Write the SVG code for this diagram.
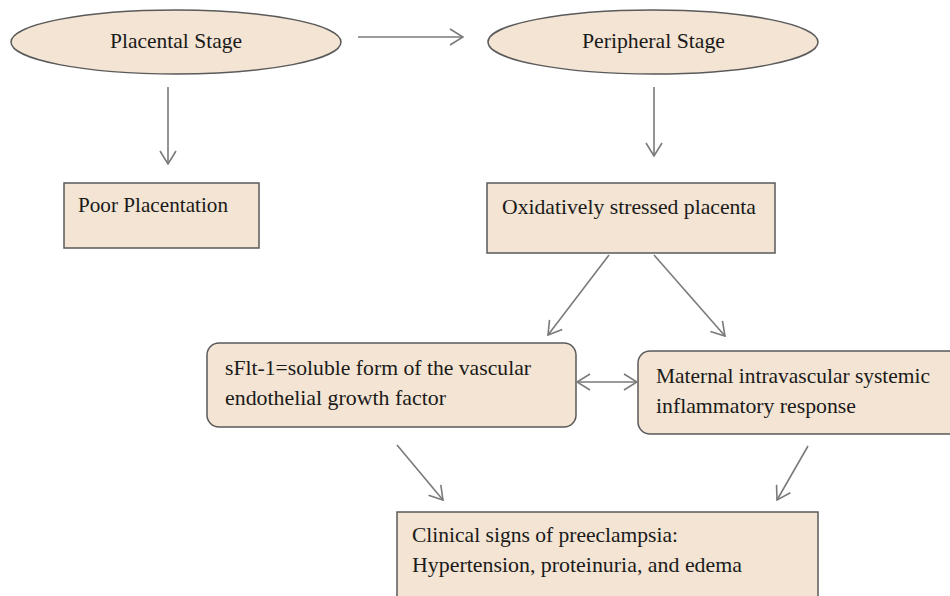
<svg xmlns="http://www.w3.org/2000/svg" width="950" height="596" viewBox="0 0 950 596">
<defs>
<style>
.node{fill:#F3E4D3;stroke:#5a5a5a;stroke-width:1.5}
.t{font-family:"Liberation Serif","Times New Roman",serif;font-size:21px;fill:#1a1a1a}
.con line{stroke:#7a7a7a;stroke-width:1.6;fill:none}
</style>
<marker id="ah" viewBox="0 0 16 18" refX="15" refY="9" markerWidth="16" markerHeight="18" markerUnits="userSpaceOnUse" orient="auto-start-reverse">
<path d="M2,1 L15,9 L2,17" fill="none" stroke="#7a7a7a" stroke-width="1.6"/>
</marker>
</defs>
<rect width="950" height="596" fill="#ffffff"/>
<g id="placental-stage">
<ellipse class="node" cx="176" cy="42" rx="165" ry="32"/>
<text class="t" x="110" y="48" textLength="132" lengthAdjust="spacingAndGlyphs">Placental Stage</text>
</g>
<g id="peripheral-stage">
<ellipse class="node" cx="653" cy="42" rx="165" ry="32"/>
<text class="t" x="582" y="48" textLength="143" lengthAdjust="spacingAndGlyphs">Peripheral Stage</text>
</g>
<g id="poor-placentation">
<rect class="node" x="64" y="183" width="195" height="65"/>
<text class="t" x="78" y="212" textLength="150" lengthAdjust="spacingAndGlyphs">Poor Placentation</text>
</g>
<g id="oxidatively-stressed">
<rect class="node" x="487" y="183" width="288" height="70"/>
<text class="t" x="502" y="214" textLength="254" lengthAdjust="spacingAndGlyphs">Oxidatively stressed placenta</text>
</g>
<g id="sflt1">
<rect class="node" x="207" y="343" width="369" height="84" rx="12" ry="12"/>
<text class="t" x="225" y="375" textLength="306" lengthAdjust="spacingAndGlyphs">sFlt-1=soluble form of the vascular</text>
<text class="t" x="225" y="405" textLength="221" lengthAdjust="spacingAndGlyphs">endothelial growth factor</text>
</g>
<g id="maternal-response">
<rect class="node" x="638" y="351" width="330" height="83" rx="12" ry="12"/>
<text class="t" x="656" y="383" textLength="274" lengthAdjust="spacingAndGlyphs">Maternal intravascular systemic</text>
<text class="t" x="656" y="413" textLength="200" lengthAdjust="spacingAndGlyphs">inflammatory response</text>
</g>
<g id="clinical-signs">
<rect class="node" x="397" y="512" width="421" height="100"/>
<text class="t" x="412" y="542" textLength="266" lengthAdjust="spacingAndGlyphs">Clinical signs of preeclampsia:</text>
<text class="t" x="412" y="572" textLength="330" lengthAdjust="spacingAndGlyphs">Hypertension, proteinuria, and edema</text>
</g>
<g id="connectors" class="con">
<line x1="358" y1="37" x2="463" y2="37" marker-end="url(#ah)"/>
<line x1="168" y1="87" x2="168" y2="164" marker-end="url(#ah)"/>
<line x1="654" y1="87" x2="654" y2="156" marker-end="url(#ah)"/>
<line x1="609" y1="255" x2="548" y2="335" marker-end="url(#ah)"/>
<line x1="654" y1="255" x2="725" y2="336" marker-end="url(#ah)"/>
<line x1="577" y1="382" x2="637" y2="382" marker-start="url(#ah)" marker-end="url(#ah)"/>
<line x1="397" y1="445" x2="443" y2="500" marker-end="url(#ah)"/>
<line x1="808" y1="446" x2="777" y2="500" marker-end="url(#ah)"/>
</g>
</svg>
